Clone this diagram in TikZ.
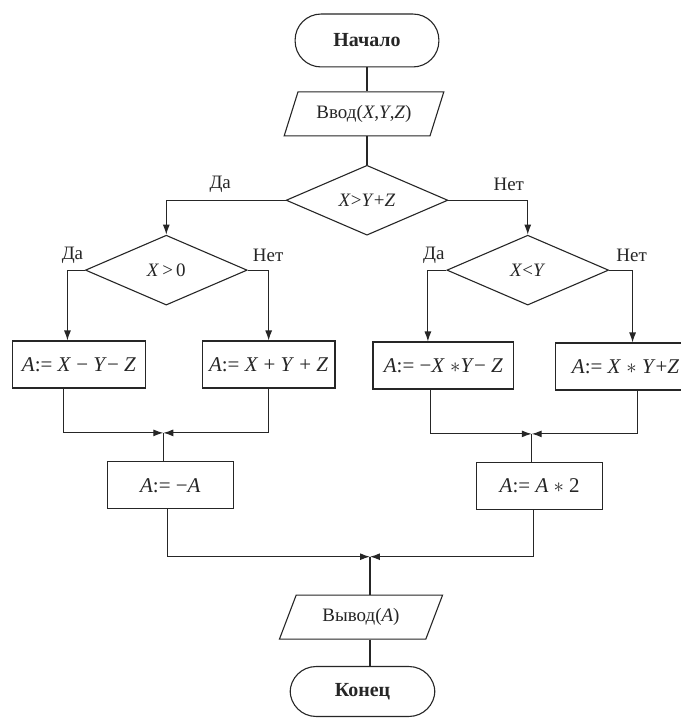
\documentclass[tikz,border=0pt]{standalone}
\usepackage{fontspec}
\setmainfont{Liberation Serif}
\usetikzlibrary{shapes.geometric,arrows.meta}
\begin{document}
\begin{tikzpicture}[x=1pt,y=-1pt,
  every path/.style={draw=black!85, line width=1.1pt},
  txt/.style={font=\fontsize{19}{22}\selectfont, text=black!85},
  term/.style={draw, rectangle, rounded corners=26pt, minimum width=144pt, minimum height=53pt, inner sep=0pt, font=\fontsize{20}{24}\selectfont\bfseries, text=black!85},
  io/.style={draw, trapezium, trapezium left angle=60, trapezium right angle=120, trapezium stretches=true, minimum height=44pt, inner sep=0pt, txt},
  dec/.style={draw, diamond, minimum width=162pt, minimum height=70pt, inner sep=0pt, txt},
  opbox/.style={draw, rectangle, minimum height=47pt, inner sep=0pt, font=\fontsize{21}{24}\selectfont, text=black!85},
  lbl/.style={inner sep=0pt, txt},
  arr/.style={-{Latex[length=10pt,width=7pt]}}
]
\useasboundingbox (0,0) rectangle (680,718);
\fill[white] (0,0) rectangle (680,718);

\node[term] (start) at (367,40) {Начало};
\node[io, minimum width=160pt] (in) at (364,113.5) {Ввод(\textit{X},\textit{Y},\textit{Z})};
\node[dec] (d1) at (367,200) {\textit{X}>\textit{Y}+\textit{Z}};
\node[dec] (d2) at (166,270) {\textit{X}\,>\,0};
\node[dec] (d3) at (528,270) {\textit{X}<\textit{Y}};

\node[opbox, minimum width=133pt] (b1) at (78.5,364.5) {\textit{A}:= \textit{X} − \textit{Y}− \textit{Z}};
\node[opbox, minimum width=133pt] (b2) at (268.5,364.5) {\textit{A}:= \textit{X} + \textit{Y} + \textit{Z}};
\node[opbox, minimum width=141pt] (b3) at (443.5,365.5) {\textit{A}:= −\textit{X} $\ast$\textit{Y}− \textit{Z}};
\node[opbox, minimum width=141pt] (b4) at (626,366.5) {\textit{A}:= \textit{X} $\ast$ \textit{Y}+\textit{Z}};
\node[opbox, minimum width=126pt] (b5) at (170,485.5) {\textit{A}:= −\textit{A}};
\node[opbox, minimum width=126pt] (b6) at (540,486) {\textit{A}:= \textit{A} $\ast$ 2};

\node[io, minimum width=165pt] (out) at (361,617.5) {Вывод(\textit{A})};
\node[term, minimum width=145pt, minimum height=50pt] (end) at (362.5,692) {Конец};

\node[lbl] (l1) at (220,184) {Да};
\node[lbl] (l2) at (509,184) {Нет};
\node[lbl] (l3) at (72,255) {Да};
\node[lbl] (l4) at (268,255) {Нет};
\node[lbl] (l5) at (434,255) {Да};
\node[lbl] (l6) at (632,255) {Нет};

\draw (start.south) -- (start.south |- in.north);
\draw (start.south |- in.south) -- (d1.north);

\draw[arr] (d1.west) -| (d2.north);
\draw[arr] (d1.east) -| (d3.north);
\draw[arr] (d2.west) -| ([xshift=-11.5pt]b1.north);
\draw[arr] (d2.east) -| (b2.north);
\draw[arr] (d3.west) -| ([xshift=-15.5pt]b3.north);
\draw[arr] (d3.east) -| ([xshift=7pt]b4.north);

\coordinate (m1) at (163,433);
\draw[arr] ([xshift=-15.5pt]b1.south) |- (m1);
\draw[arr] (b2.south) |- (m1);
\draw (m1) -- (m1 |- b5.north);

\coordinate (m2) at (532,434);
\draw[arr] ([xshift=-12.5pt]b3.south) |- (m2);
\draw[arr] ([xshift=12pt]b4.south) |- (m2);
\draw (m2) -- (m2 |- b6.north);

\coordinate (m3) at (370,557);
\draw[arr] ([xshift=-3pt]b5.south) |- (m3);
\draw[arr] ([xshift=-6pt]b6.south) |- (m3);
\draw (m3) -- (m3 |- out.north);
\draw (m3 |- out.south) -- (m3 |- end.north);
\end{tikzpicture}
\end{document}
